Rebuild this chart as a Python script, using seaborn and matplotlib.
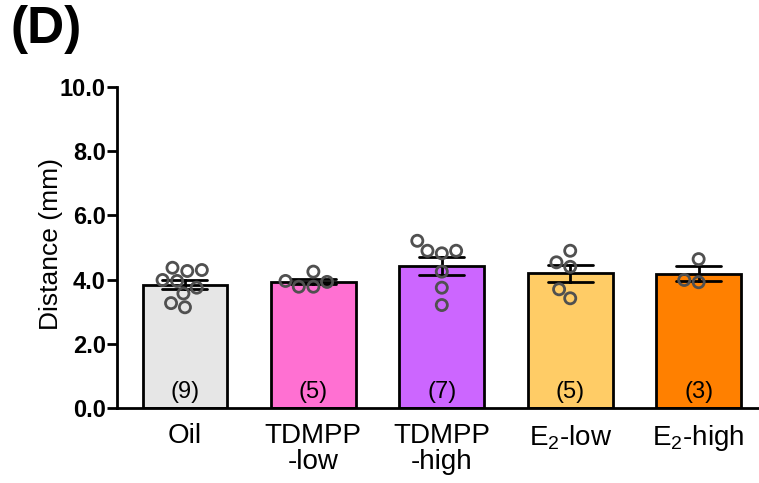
import numpy as np
import pandas as pd
import matplotlib
matplotlib.use("Agg")
import matplotlib.pyplot as plt
import seaborn as sns

groups = ["Oil", "TDMPP\n-low", "TDMPP\n-high", "E$_2$-low", "E$_2$-high"]
colors = ["#e6e6e6", "#ff70d2", "#cc66ff", "#ffcc66", "#ff8000"]

oil = [4.37, 4.27, 4.30, 3.96, 3.99, 3.75, 3.57, 3.14, 3.27]
tdmpp_low = [4.25, 3.93, 3.78, 3.78, 3.96]
tdmpp_high = [5.21, 4.90, 4.82, 4.90, 4.25, 3.75, 3.21]
e2_low = [4.90, 4.54, 4.40, 3.70, 3.42]
e2_high = [4.64, 3.92, 3.99]

series = [oil, tdmpp_low, tdmpp_high, e2_low, e2_high]
df = pd.DataFrame({
    "group": [g for g, vals in zip(groups, series) for _ in vals],
    "distance": [v for vals in series for v in vals],
})

sns.set_theme(style="white")
plt.rcParams["font.family"] = ["Liberation Sans", "DejaVu Sans"]
plt.rcParams["mathtext.fontset"] = "custom"
plt.rcParams["mathtext.rm"] = "Liberation Sans"
for key in ["text.color", "axes.labelcolor", "xtick.color", "ytick.color"]:
    plt.rcParams[key] = "black"

fig = plt.figure(figsize=(7.59, 4.83), dpi=100)
ax = fig.add_axes([0.154, 0.155, 0.846, 0.665])

sns.barplot(data=df, x="group", y="distance", hue="group", palette=colors,
            order=groups, hue_order=groups, legend=False, saturation=1,
            errorbar="se", capsize=0.35, width=0.66,
            edgecolor="black", linewidth=2,
            err_kws={"color": "black", "linewidth": 2}, ax=ax)
sns.swarmplot(data=df, x="group", y="distance", order=groups,
              marker="o", size=8, color="none", ax=ax)
for c in ax.collections:
    c.set_facecolor("none")
    c.set_edgecolor("#505050")
    c.set_linewidth(2)

for i, vals in enumerate(series):
    ax.text(i, 0.5, f"({len(vals)})", ha="center", va="center", fontsize=17)

ax.set_ylim(0, 10)
ax.set_xlim(-0.53, 4.47)
ticks = np.arange(0, 10.1, 2)
ax.set_yticks(ticks)
ax.set_yticklabels([f"{t:.1f}" for t in ticks], fontweight="bold", fontsize=17)
ax.tick_params(axis="y", length=7, width=2, direction="out", left=True, pad=1)
ax.tick_params(axis="x", length=0, labelsize=20, pad=11)
for lbl in ax.get_xticklabels():
    lbl.set_linespacing(1.0)
ax.set_xlabel("")
ax.set_ylabel("Distance (mm)", fontsize=19)
ax.yaxis.set_label_coords(-0.084, 0.51)
for side in ["top", "right"]:
    ax.spines[side].set_visible(False)
for side in ["left", "bottom"]:
    ax.spines[side].set_linewidth(2)
    ax.spines[side].set_color("black")

fig.text(0.014, 0.99, "(D)", fontsize=37, fontweight="bold", va="top", ha="left")

fig.savefig("out.png", dpi=100)
